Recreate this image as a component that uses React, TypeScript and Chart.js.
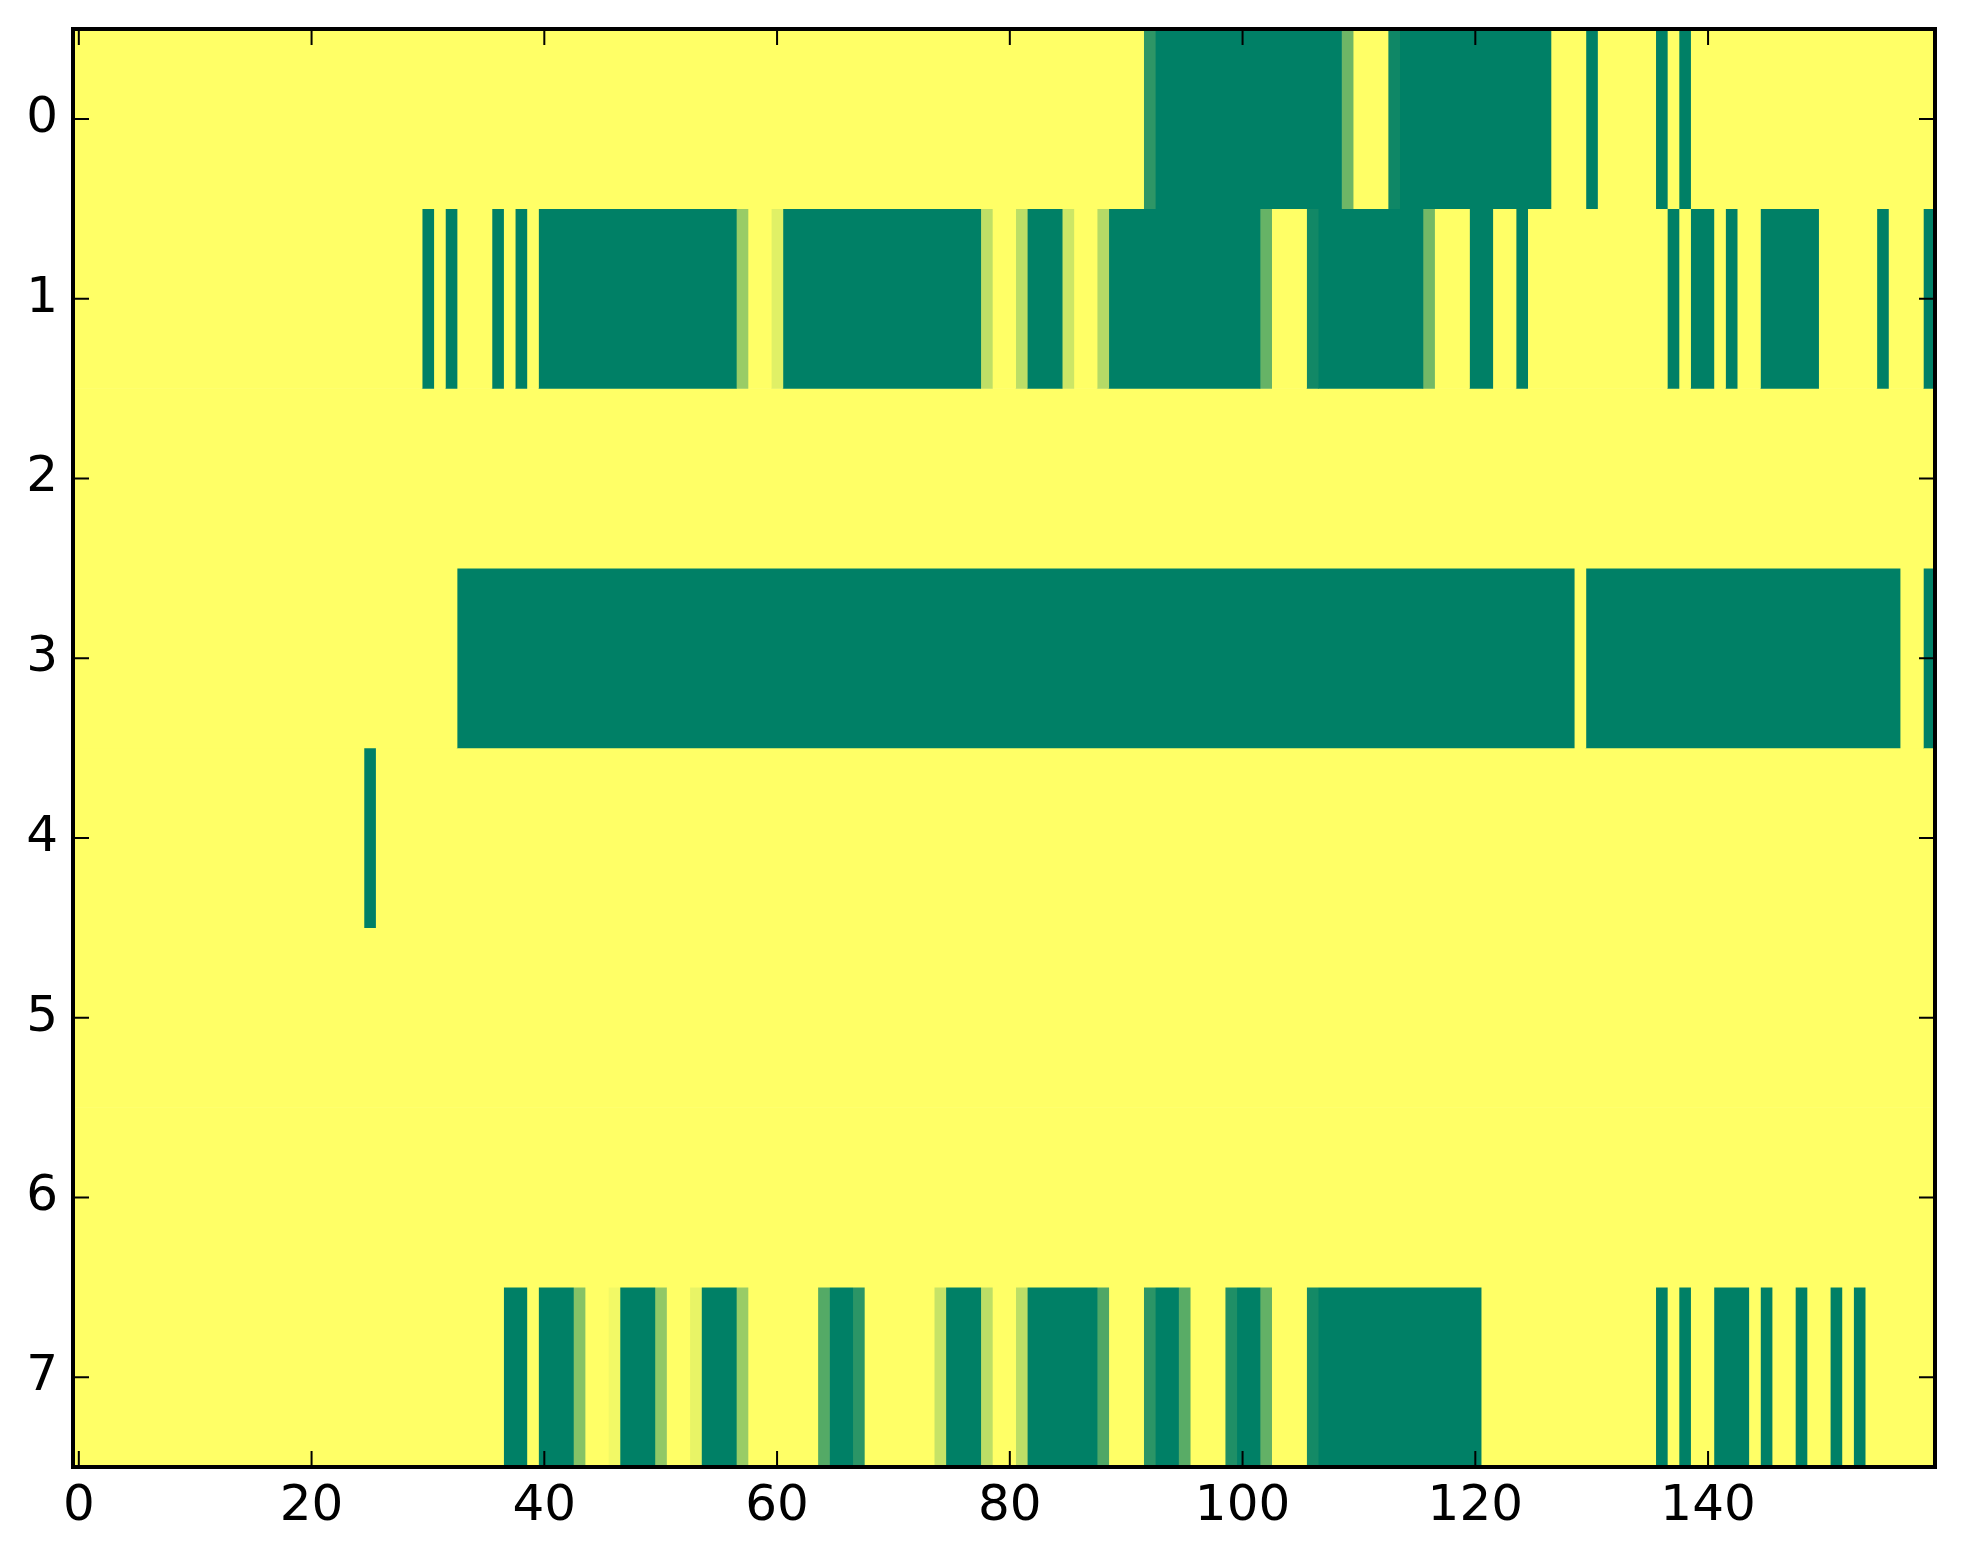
import React, { useEffect, useRef } from "react";
import { Chart, registerables } from "chart.js";

Chart.register(...registerables);

const rowLabels = ["0", "1", "2", "3", "4", "5", "6", "7"];
const xTickValues = [0, 20, 40, 60, 80, 100, 120, 140];

const row0 = [
  1, 1, 1, 1, 1, 1, 1, 1, 1, 1, 1, 1, 1, 1, 1, 1, 1, 1, 1, 1,
  1, 1, 1, 1, 1, 1, 1, 1, 1, 1, 1, 1, 1, 1, 1, 1, 1, 1, 1, 1,
  1, 1, 1, 1, 1, 1, 1, 1, 1, 1, 1, 1, 1, 1, 1, 1, 1, 1, 1, 1,
  1, 1, 1, 1, 1, 1, 1, 1, 1, 1, 1, 1, 1, 1, 1, 1, 1, 1, 1, 1,
  1, 1, 1, 1, 1, 1, 1, 1, 1, 1, 1, 1, 0.18, 0, 0, 0, 0, 0, 0, 0,
  0, 0, 0, 0, 0, 0, 0, 0, 0, 0.43, 1, 1, 1, 0.06, 0, 0, 0, 0, 0, 0,
  0, 0, 0, 0, 0, 0, 0, 1, 1, 1, 0, 1, 1, 1, 1, 1, 0, 1, 0, 1,
  1, 1, 1, 1, 1, 1, 1, 1, 1, 1, 1, 1, 1, 1, 1, 1, 1, 1, 1, 1,
];

const row1 = [
  1, 1, 1, 1, 1, 1, 1, 1, 1, 1, 1, 1, 1, 1, 1, 1, 1, 1, 1, 1,
  1, 1, 1, 1, 1, 1, 1, 1, 1, 1, 0, 1, 0, 1, 1, 1, 0, 1, 0, 1,
  0, 0, 0, 0, 0, 0, 0, 0, 0, 0, 0, 0, 0, 0, 0, 0, 0, 0.6, 1, 1,
  0.88, 0, 0, 0, 0, 0, 0, 0, 0, 0, 0, 0, 0, 0, 0, 0, 0, 0, 0.75, 1,
  1, 0.74, 0, 0, 0, 0.8, 1, 1, 0.71, 0, 0, 0, 0, 0, 0, 0, 0, 0, 0, 0,
  0, 0, 0.4, 1, 1, 1, 0.07, 0, 0, 0, 0, 0, 0, 0, 0, 0, 0.45, 1, 1, 1,
  0, 0, 1, 1, 0, 1, 1, 1, 1, 1, 1, 1, 1, 1, 1, 1, 1, 0, 1, 0,
  0, 1, 0, 1, 1, 0, 0, 0, 0, 0, 1, 1, 1, 1, 1, 0, 1, 1, 1, 0,
];

const row2 = [
  1, 1, 1, 1, 1, 1, 1, 1, 1, 1, 1, 1, 1, 1, 1, 1, 1, 1, 1, 1,
  1, 1, 1, 1, 1, 1, 1, 1, 1, 1, 1, 1, 1, 1, 1, 1, 1, 1, 1, 1,
  1, 1, 1, 1, 1, 1, 1, 1, 1, 1, 1, 1, 1, 1, 1, 1, 1, 1, 1, 1,
  1, 1, 1, 1, 1, 1, 1, 1, 1, 1, 1, 1, 1, 1, 1, 1, 1, 1, 1, 1,
  1, 1, 1, 1, 1, 1, 1, 1, 1, 1, 1, 1, 1, 1, 1, 1, 1, 1, 1, 1,
  1, 1, 1, 1, 1, 1, 1, 1, 1, 1, 1, 1, 1, 1, 1, 1, 1, 1, 1, 1,
  1, 1, 1, 1, 1, 1, 1, 1, 1, 1, 1, 1, 1, 1, 1, 1, 1, 1, 1, 1,
  1, 1, 1, 1, 1, 1, 1, 1, 1, 1, 1, 1, 1, 1, 1, 1, 1, 1, 1, 1,
];

const row3 = [
  1, 1, 1, 1, 1, 1, 1, 1, 1, 1, 1, 1, 1, 1, 1, 1, 1, 1, 1, 1,
  1, 1, 1, 1, 1, 1, 1, 1, 1, 1, 1, 1, 1, 0, 0, 0, 0, 0, 0, 0,
  0, 0, 0, 0, 0, 0, 0, 0, 0, 0, 0, 0, 0, 0, 0, 0, 0, 0, 0, 0,
  0, 0, 0, 0, 0, 0, 0, 0, 0, 0, 0, 0, 0, 0, 0, 0, 0, 0, 0, 0,
  0, 0, 0, 0, 0, 0, 0, 0, 0, 0, 0, 0, 0, 0, 0, 0, 0, 0, 0, 0,
  0, 0, 0, 0, 0, 0, 0, 0, 0, 0, 0, 0, 0, 0, 0, 0, 0, 0, 0, 0,
  0, 0, 0, 0, 0, 0, 0, 0, 0, 1, 0, 0, 0, 0, 0, 0, 0, 0, 0, 0,
  0, 0, 0, 0, 0, 0, 0, 0, 0, 0, 0, 0, 0, 0, 0, 0, 0, 1, 1, 0,
];

const row4 = [
  1, 1, 1, 1, 1, 1, 1, 1, 1, 1, 1, 1, 1, 1, 1, 1, 1, 1, 1, 1,
  1, 1, 1, 1, 1, 0, 1, 1, 1, 1, 1, 1, 1, 1, 1, 1, 1, 1, 1, 1,
  1, 1, 1, 1, 1, 1, 1, 1, 1, 1, 1, 1, 1, 1, 1, 1, 1, 1, 1, 1,
  1, 1, 1, 1, 1, 1, 1, 1, 1, 1, 1, 1, 1, 1, 1, 1, 1, 1, 1, 1,
  1, 1, 1, 1, 1, 1, 1, 1, 1, 1, 1, 1, 1, 1, 1, 1, 1, 1, 1, 1,
  1, 1, 1, 1, 1, 1, 1, 1, 1, 1, 1, 1, 1, 1, 1, 1, 1, 1, 1, 1,
  1, 1, 1, 1, 1, 1, 1, 1, 1, 1, 1, 1, 1, 1, 1, 1, 1, 1, 1, 1,
  1, 1, 1, 1, 1, 1, 1, 1, 1, 1, 1, 1, 1, 1, 1, 1, 1, 1, 1, 1,
];

const row5 = [
  1, 1, 1, 1, 1, 1, 1, 1, 1, 1, 1, 1, 1, 1, 1, 1, 1, 1, 1, 1,
  1, 1, 1, 1, 1, 1, 1, 1, 1, 1, 1, 1, 1, 1, 1, 1, 1, 1, 1, 1,
  1, 1, 1, 1, 1, 1, 1, 1, 1, 1, 1, 1, 1, 1, 1, 1, 1, 1, 1, 1,
  1, 1, 1, 1, 1, 1, 1, 1, 1, 1, 1, 1, 1, 1, 1, 1, 1, 1, 1, 1,
  1, 1, 1, 1, 1, 1, 1, 1, 1, 1, 1, 1, 1, 1, 1, 1, 1, 1, 1, 1,
  1, 1, 1, 1, 1, 1, 1, 1, 1, 1, 1, 1, 1, 1, 1, 1, 1, 1, 1, 1,
  1, 1, 1, 1, 1, 1, 1, 1, 1, 1, 1, 1, 1, 1, 1, 1, 1, 1, 1, 1,
  1, 1, 1, 1, 1, 1, 1, 1, 1, 1, 1, 1, 1, 1, 1, 1, 1, 1, 1, 1,
];

const row6 = [
  1, 1, 1, 1, 1, 1, 1, 1, 1, 1, 1, 1, 1, 1, 1, 1, 1, 1, 1, 1,
  1, 1, 1, 1, 1, 1, 1, 1, 1, 1, 1, 1, 1, 1, 1, 1, 1, 1, 1, 1,
  1, 1, 1, 1, 1, 1, 1, 1, 1, 1, 1, 1, 1, 1, 1, 1, 1, 1, 1, 1,
  1, 1, 1, 1, 1, 1, 1, 1, 1, 1, 1, 1, 1, 1, 1, 1, 1, 1, 1, 1,
  1, 1, 1, 1, 1, 1, 1, 1, 1, 1, 1, 1, 1, 1, 1, 1, 1, 1, 1, 1,
  1, 1, 1, 1, 1, 1, 1, 1, 1, 1, 1, 1, 1, 1, 1, 1, 1, 1, 1, 1,
  1, 1, 1, 1, 1, 1, 1, 1, 1, 1, 1, 1, 1, 1, 1, 1, 1, 1, 1, 1,
  1, 1, 1, 1, 1, 1, 1, 1, 1, 1, 1, 1, 1, 1, 1, 1, 1, 1, 1, 1,
];

const row7 = [
  1, 1, 1, 1, 1, 1, 1, 1, 1, 1, 1, 1, 1, 1, 1, 1, 1, 1, 1, 1,
  1, 1, 1, 1, 1, 1, 1, 1, 1, 1, 1, 1, 1, 1, 1, 1, 1, 0, 0, 1,
  0, 0, 0, 0.52, 1, 1, 0.95, 0, 0, 0, 0.57, 1, 1, 0.91, 0, 0, 0, 0.6, 1, 1,
  1, 1, 1, 1, 0.33, 0, 0, 0.17, 1, 1, 1, 1, 1, 1, 0.78, 0, 0, 0, 0.74, 1,
  1, 0.74, 0, 0, 0, 0, 0, 0, 0.31, 1, 1, 1, 0.17, 0, 0, 0.35, 1, 1, 1, 0.12,
  0, 0, 0.39, 1, 1, 1, 0.08, 0, 0, 0, 0, 0, 0, 0, 0, 0, 0, 0, 0, 0,
  0, 1, 1, 1, 1, 1, 1, 1, 1, 1, 1, 1, 1, 1, 1, 1, 0, 1, 0, 1,
  1, 0, 0, 0, 1, 0, 1, 1, 0, 1, 1, 0, 1, 0, 1, 1, 1, 1, 1, 1,
];

const rows = [row0, row1, row2, row3, row4, row5, row6, row7];

// matplotlib "summer" colormap
function summer(v: number): string {
  const r = Math.round(255 * v);
  const g = Math.round(255 * (0.5 + 0.5 * v));
  const b = 102;
  return `rgb(${r},${g},${b})`;
}

function buildDatasets() {
  const ds: any[] = [];
  rows.forEach((row, r) => {
    let start = 0;
    for (let c = 1; c <= row.length; c++) {
      if (c === row.length || row[c] !== row[start]) {
        ds.push({
          data: rowLabels.map((_, i) => (i === r ? [start - 0.5, c - 0.5] : null)),
          backgroundColor: summer(row[start]),
          borderWidth: 0,
          barPercentage: 1,
          categoryPercentage: 1,
          grouped: false,
        });
        start = c;
      }
    }
  });
  return ds;
}

const TICK_LEN = 16;

const framePlugin = {
  id: "frame",
  afterDatasetsDraw(chart: any) {
    const { ctx, chartArea: a, scales } = chart;
    const xs = scales.x;
    const ys = scales.y;
    ctx.save();
    ctx.strokeStyle = "#000";
    ctx.lineWidth = 2;
    ctx.beginPath();
    for (const t of xs.ticks) {
      const px = xs.getPixelForValue(t.value);
      ctx.moveTo(px, a.bottom);
      ctx.lineTo(px, a.bottom - TICK_LEN);
      ctx.moveTo(px, a.top);
      ctx.lineTo(px, a.top + TICK_LEN);
    }
    for (let i = 0; i < rowLabels.length; i++) {
      const py = ys.getPixelForValue(i);
      ctx.moveTo(a.left, py);
      ctx.lineTo(a.left + TICK_LEN, py);
      ctx.moveTo(a.right, py);
      ctx.lineTo(a.right - TICK_LEN, py);
    }
    ctx.stroke();
    ctx.lineWidth = 4;
    ctx.strokeRect(a.left, a.top, a.right - a.left, a.bottom - a.top);
    ctx.restore();
  },
};

export default function App() {
  const canvasRef = useRef<HTMLCanvasElement | null>(null);

  useEffect(() => {
    if (!canvasRef.current) return;
    const tickFont = { family: "'DejaVu Sans', sans-serif", size: 50 };
    const chart = new Chart(canvasRef.current, {
      type: "bar",
      data: { labels: rowLabels, datasets: buildDatasets() },
      options: {
        indexAxis: "y",
        animation: false,
        responsive: false,
        devicePixelRatio: 1,
        layout: { padding: { top: 29, right: 28, left: 0, bottom: 0 } },
        plugins: { legend: { display: false }, tooltip: { enabled: false } },
        scales: {
          x: {
            type: "linear",
            min: -0.5,
            max: 159.5,
            grid: { display: false },
            border: { display: false },
            afterBuildTicks: (s: any) => {
              s.ticks = xTickValues.map((v) => ({ value: v }));
            },
            afterFit: (s: any) => {
              s.height = 97;
              s.paddingLeft = 0;
              s.paddingRight = 0;
            },
            ticks: {
              color: "#000",
              font: tickFont,
              padding: 2,
              maxRotation: 0,
              autoSkip: false,
              callback: (v: any) => String(v),
            },
          },
          y: {
            type: "category",
            offset: true,
            grid: { display: false },
            border: { display: false },
            afterFit: (s: any) => {
              s.width = 73;
              s.paddingTop = 0;
              s.paddingBottom = 0;
            },
            ticks: { color: "#000", font: tickFont, padding: 7 },
          },
        },
      } as any,
      plugins: [framePlugin],
    });
    return () => chart.destroy();
  }, []);

  return (
    <div
      style={{
        position: "fixed",
        left: 0,
        top: 0,
        width: 1963,
        height: 1564,
        background: "#fff",
      }}
    >
      <canvas ref={canvasRef} width={1963} height={1564} style={{ display: "block" }} />
    </div>
  );
}
